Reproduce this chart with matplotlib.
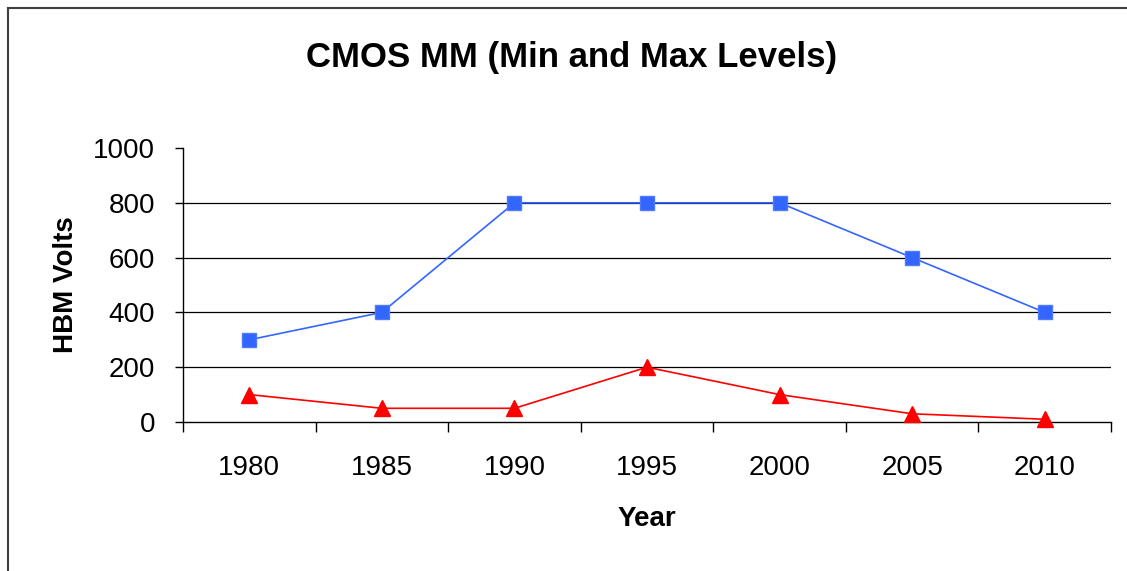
import matplotlib.pyplot as plt
from matplotlib.lines import Line2D

years = ['1980', '1985', '1990', '1995', '2000', '2005', '2010']
max_levels = [300, 400, 800, 800, 800, 600, 400]
min_levels = [100, 50, 50, 200, 100, 30, 10]
y_ticks = [0, 200, 400, 600, 800, 1000]

plt.rcParams['font.family'] = ['Liberation Sans', 'DejaVu Sans']

fig = plt.figure(figsize=(11.27, 5.71), dpi=100)
ax = fig.add_axes([183 / 1127, 1 - 422 / 571, 928 / 1127, 274 / 571])

x = range(len(years))
ax.plot(x, max_levels, color='#3366ff', linewidth=1.2, marker='s',
        markersize=9.5, markeredgecolor='#4d7aff', zorder=3, clip_on=False)
ax.plot(x, min_levels, color='#ff0000', linewidth=1.2, marker='^',
        markersize=11, zorder=3, clip_on=False)

ax.set_xlim(-0.5, len(years) - 0.5)
ax.set_ylim(0, 1000)
ax.set_yticks(y_ticks)
for v in y_ticks[1:-1]:
    ax.axhline(v, color='black', linewidth=0.9, zorder=1)

ax.set_xticks([i - 0.5 for i in range(len(years) + 1)])
ax.set_xticklabels([])
ax.set_xticks(list(x), minor=True)
ax.set_xticklabels(years, minor=True)
ax.tick_params(axis='x', which='major', direction='out', length=7, width=1)
ax.tick_params(axis='x', which='minor', length=0, pad=24, labelsize=20)
ax.tick_params(axis='y', direction='out', length=6, width=1, pad=14,
               labelsize=20)

for side in ['top', 'right']:
    ax.spines[side].set_visible(False)
for side in ['left', 'bottom']:
    ax.spines[side].set_linewidth(1)

ax.set_xlabel('Year', fontsize=20, fontweight='bold', labelpad=18)
ax.set_ylabel('HBM Volts', fontsize=20, fontweight='bold', labelpad=10)
fig.text(572 / 1127, 1 - 57 / 571, 'CMOS MM (Min and Max Levels)',
         fontsize=25, fontweight='bold', ha='center', va='center')

# outer chart frame (only left and top edges visible)
fig.add_artist(Line2D([8 / 1127, 8 / 1127], [0, 1 - 8 / 571],
                      transform=fig.transFigure, color='#404040', linewidth=1.5))
fig.add_artist(Line2D([8 / 1127, 1], [1 - 8 / 571, 1 - 8 / 571],
                      transform=fig.transFigure, color='#404040', linewidth=1.5))

fig.savefig('out.png', dpi=100)
